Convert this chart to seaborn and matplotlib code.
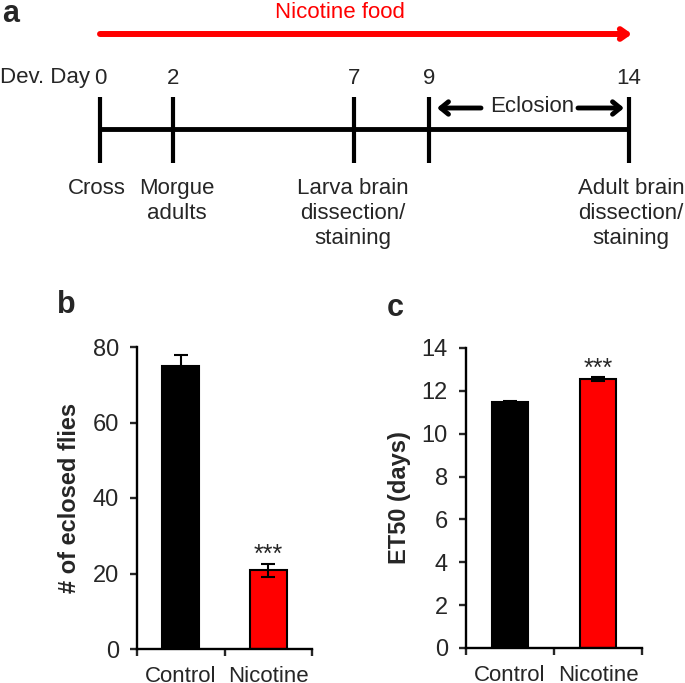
import matplotlib
matplotlib.use('Agg')
import matplotlib.pyplot as plt
import numpy as np
import seaborn as sns

# data
groups = ['Control', 'Nicotine']
eclosed_mean = [75.0, 20.8]
eclosed_sem = [3.0, 1.8]
et50_mean = [11.5, 12.55]
et50_sem = [0.04, 0.1]
bar_colors = ['#000000', '#ff0000']

# timeline (panel a)
days = ['0', '2', '7', '9', '14']
events = ['Cross', 'Morgue\nadults', 'Larva brain\ndissection/\nstaining', '', 'Adult brain\ndissection/\nstaining']
day_x = [100, 173, 354, 429, 629]          # horizontal layout positions (px)
event_x = [97, 177, 353, 429, 631]

sns.set_style('ticks')
plt.rcParams['font.family'] = ['Liberation Sans', 'DejaVu Sans']

W, H = 685, 683
fig = plt.figure(figsize=(W / 100, H / 100), dpi=100)

# ---- panel a: schematic drawn in pixel coordinates
ax_a = fig.add_axes([0, 0, 1, 1])
ax_a.set_xlim(0, W)
ax_a.set_ylim(H, 0)
ax_a.axis('off')

ax_a.text(2, 14, 'a', fontsize=22, fontweight='bold', ha='left', va='center')
ax_a.text(340, 12, 'Nicotine food', color='#ff0000', fontsize=16, ha='center', va='center')
ax_a.annotate('', xy=(632, 34), xytext=(100, 34),
              arrowprops=dict(arrowstyle='->, head_length=0.5, head_width=0.35',
                              color='#ff0000', lw=4.3, shrinkA=0, shrinkB=0))

ax_a.text(90, 78, 'Dev. Day', fontsize=16, ha='right', va='center')
ax_a.plot([day_x[0], day_x[-1]], [129, 129], color='black', lw=3.5, solid_capstyle='butt')
for d, x in zip(days, day_x):
    ax_a.plot([x, x], [97, 163], color='black', lw=3, solid_capstyle='butt')
    ax_a.text(x, 78, d, fontsize=16, ha='center', va='center')
for ev, x in zip(events, event_x):
    if ev:
        ax_a.text(x, 178, ev, fontsize=16, ha='center', va='top', linespacing=1.25)

ax_a.text(532, 107, 'Eclosion', fontsize=16, ha='center', va='center')
ax_a.annotate('', xy=(437, 108), xytext=(481, 108),
              arrowprops=dict(arrowstyle='->, head_length=0.55, head_width=0.45',
                              color='black', lw=3.5, shrinkA=0, shrinkB=0))
ax_a.annotate('', xy=(624, 108), xytext=(578, 108),
              arrowprops=dict(arrowstyle='->, head_length=0.55, head_width=0.45',
                              color='black', lw=3.5, shrinkA=0, shrinkB=0))

ax_a.text(66, 305, 'b', fontsize=22, fontweight='bold', ha='center', va='center')
ax_a.text(395, 308, 'c', fontsize=22, fontweight='bold', ha='center', va='center')


def bar_panel(rect, means, sems, ylim, yticks, ylabel):
    ax = fig.add_axes(rect)
    sns.barplot(x=groups, y=means, hue=groups, palette=bar_colors, saturation=1,
                width=0.42, edgecolor='black', linewidth=1.5, legend=False,
                errorbar=None, ax=ax)
    ax.errorbar(x=np.arange(len(groups)), y=means, yerr=sems, fmt='none',
                ecolor='black', elinewidth=1.5, capsize=5, capthick=1.5, zorder=5)
    ax.set_xlim(-0.5, len(groups) - 0.5)
    ax.set_ylim(*ylim)
    ax.set_yticks(yticks)
    ax.set_xticks(np.arange(len(groups)))
    ax.set_xticklabels(groups)
    ax.set_xticks(np.arange(-0.5, len(groups)), minor=True)
    ax.tick_params(axis='x', which='major', length=0, pad=12, labelsize=16)
    ax.tick_params(axis='x', which='minor', length=5, width=1.7, direction='out')
    ax.tick_params(axis='y', length=5, width=1.7, direction='out', pad=8, labelsize=17)
    ax.set_xlabel('')
    ax.set_ylabel(ylabel, fontsize=17, fontweight='bold', labelpad=8)
    sns.despine(ax=ax)
    for s in ['left', 'bottom']:
        ax.spines[s].set_linewidth(1.7)
        ax.spines[s].set_color('black')
    ax.set_facecolor('none')
    ax.annotate('***', xy=(1, means[1] + sems[1]), xytext=(0, 1), textcoords='offset points',
                ha='center', va='baseline', fontsize=18)
    return ax


bar_panel([137 / W, 1 - 649 / H, 175 / W, 302 / H], eclosed_mean, eclosed_sem,
          (0, 80), [0, 20, 40, 60, 80], '# of eclosed flies')
bar_panel([466 / W, 1 - 648 / H, 176 / W, 300 / H], et50_mean, et50_sem,
          (0, 14), [0, 2, 4, 6, 8, 10, 12, 14], 'ET50 (days)')

fig.savefig('out.png', dpi=100)
